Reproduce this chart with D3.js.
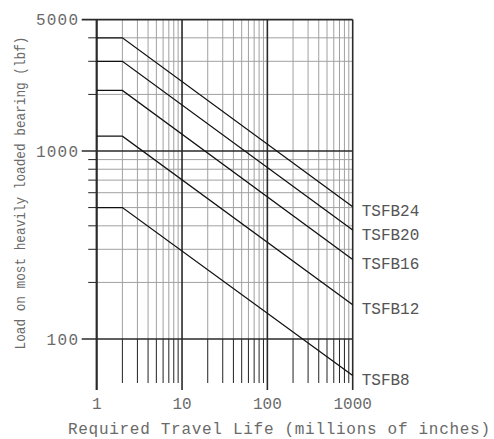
<!DOCTYPE html>
<html lang="en">
<head>
<meta charset="UTF-8">
<title>Bearing load vs travel life</title>
<script src="https://d3js.org/d3.v7.min.js"></script>
<style>
    body { margin: 0; background: #fff; }
    svg { display: block; }
    text { font-family: "Liberation Mono", "DejaVu Sans Mono", monospace; }
</style>
</head>
<body>
<script>
    // curve data
    const series = ["TSFB8", "TSFB12", "TSFB16", "TSFB20", "TSFB24"];
    const lifePoints = [1, 2, 1000];            // millions of inches
    const startLoad = [500, 1200, 2100, 3000, 4000];
    const endLoad = [64, 152, 265, 380, 505];

    // axis ticks
    const xMajor = [1, 10, 100, 1000];
    const xMinor = [2, 3, 4, 5, 6, 7, 8, 9, 20, 30, 40, 50, 60, 70, 80, 90, 200, 300, 400, 500, 600, 700, 800, 900];
    const yMajor = [100, 1000, 5000];
    const yMinor = [200, 300, 400, 500, 600, 700, 800, 900, 2000, 3000, 4000];

    const width = 494, height = 439;

    const svg = d3.select("body").append("svg")
        .attr("width", width)
        .attr("height", height);

    const x = d3.scaleLog().domain([1, 1000]).range([96.7, 352.7]);
    const y = d3.scaleLog().domain([100, 1000]).range([339, 151]);

    const plotTop = y(5000), plotLeft = x(1), plotRight = x(1000);
    const minorBottom = y(100) + 44, majorBottom = y(100) + 51;

    // gray grid
    const grid = svg.append("g").attr("stroke", "#a0a0a0").attr("stroke-width", 1);
    grid.selectAll(".vg").data(xMinor).enter().append("line")
        .attr("x1", d => x(d)).attr("x2", d => x(d))
        .attr("y1", plotTop).attr("y2", y(100));
    grid.selectAll(".hg").data(yMinor).enter().append("line")
        .attr("x1", plotLeft).attr("x2", plotRight)
        .attr("y1", d => y(d)).attr("y2", d => y(d));

    // dark ticks below 100 and left of the axis
    const ticks = svg.append("g").attr("stroke", "#222").attr("stroke-width", 1);
    ticks.selectAll(".vt").data(xMinor).enter().append("line")
        .attr("x1", d => x(d)).attr("x2", d => x(d))
        .attr("y1", y(100)).attr("y2", minorBottom);
    ticks.selectAll(".ht").data(yMinor).enter().append("line")
        .attr("x1", plotLeft - 8.5).attr("x2", plotLeft)
        .attr("y1", d => y(d)).attr("y2", d => y(d));

    // major lines
    const major = svg.append("g").attr("stroke", "#2a2a2a").attr("stroke-width", 1.6);
    major.selectAll(".vm").data(xMajor).enter().append("line")
        .attr("x1", d => x(d)).attr("x2", d => x(d))
        .attr("y1", plotTop).attr("y2", majorBottom)
        .attr("stroke-width", d => d === 1 ? 2.2 : 1.6);
    major.selectAll(".hm").data(yMajor).enter().append("line")
        .attr("x1", plotLeft - 15).attr("x2", plotRight)
        .attr("y1", d => y(d)).attr("y2", d => y(d));

    // curves
    const line = d3.line().x(d => x(d[0])).y(d => y(d[1]));
    const curves = series.map((name, i) => ({
        name,
        pts: [[lifePoints[0], startLoad[i]], [lifePoints[1], startLoad[i]], [lifePoints[2], endLoad[i]]]
    }));
    svg.append("g").selectAll("path").data(curves).enter().append("path")
        .attr("d", d => line(d.pts))
        .attr("fill", "none")
        .attr("stroke", "#111")
        .attr("stroke-width", 1.3);

    svg.append("g").selectAll("text").data(curves).enter().append("text")
        .attr("x", plotRight + 9)
        .attr("y", d => y(d.pts[2][1]) + 4)
        .attr("dy", "0.35em")
        .attr("font-size", 16)
        .attr("fill", "#555")
        .text(d => d.name);

    // tick labels
    svg.append("g").selectAll("text").data(yMajor).enter().append("text")
        .attr("x", 78)
        .attr("y", d => y(d))
        .attr("dy", "0.35em")
        .attr("text-anchor", "end")
        .attr("font-size", 16)
        .attr("fill", "#6a6a6a")
        .attr("textLength", d => String(d).length * 10.5)
        .text(d => d);

    svg.append("g").selectAll("text").data(xMajor).enter().append("text")
        .attr("x", d => x(d))
        .attr("y", 403)
        .attr("dy", "0.35em")
        .attr("text-anchor", "middle")
        .attr("font-size", 16)
        .attr("fill", "#6a6a6a")
        .text(d => d);

    // axis titles
    svg.append("text")
        .attr("x", 68)
        .attr("y", 428)
        .attr("dy", "0.35em")
        .attr("font-size", 16)
        .attr("fill", "#6a6a6a")
        .attr("textLength", 422)
        .attr("lengthAdjust", "spacing")
        .text("Required Travel Life (millions of inches)");

    svg.append("text")
        .attr("transform", "translate(20,193) rotate(-90)")
        .attr("text-anchor", "middle")
        .attr("dy", "0.35em")
        .attr("font-size", 14)
        .attr("fill", "#6a6a6a")
        .attr("textLength", 313)
        .attr("lengthAdjust", "spacingAndGlyphs")
        .text("Load on most heavily loaded bearing (lbf)");
</script>
</body>
</html>
